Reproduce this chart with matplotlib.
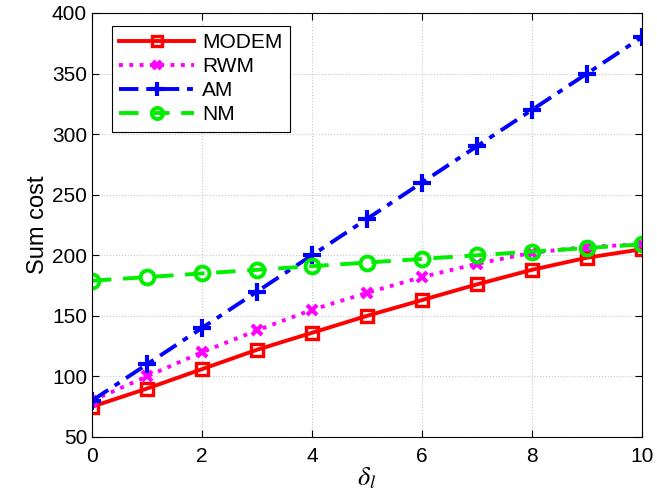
import numpy as np
import matplotlib.pyplot as plt

plt.rcParams['font.family'] = ['Liberation Sans', 'DejaVu Sans']
plt.rcParams['mathtext.fontset'] = 'stix'

delta = [0, 1, 2, 3, 4, 5, 6, 7, 8, 9, 10]
modem = [75, 90, 106, 122, 136, 150, 163, 176, 188, 198, 205]
rwm = [80, 100, 120, 138, 155, 169, 182, 193, 202, 207, 209]
am = [80, 110, 140, 170, 200, 230, 260, 290, 320, 350, 380]
nm = [179, 182, 185, 188, 191, 194, 197, 200, 203, 206, 209]

fig = plt.figure(figsize=(6.57, 5.0), dpi=100)
ax = fig.add_axes([0.140, 0.126, 0.837, 0.848])

ax.plot(delta, modem, '-', color='red', lw=2.8, marker='s', ms=9, mfc='none', mew=2.4, label='MODEM')
ax.plot(delta, rwm, ':', color='magenta', lw=2.8, marker='x', ms=7, mew=3, label='RWM')
ax.plot(delta, am, color='blue', lw=2.8, ls=(0, (5, 2, 1.5, 2)), marker='+', ms=13, mew=3, label='AM')
ax.plot(delta, nm, color='#00ee00', lw=2.8, ls=(0, (5, 3)), marker='o', ms=10, mfc='none', mew=2.8, label='NM')

ax.set_xlim(0, 10)
ax.set_ylim(50, 400)
ax.set_xticks([0, 2, 4, 6, 8, 10])
ax.set_yticks(np.arange(50, 401, 50))
ax.grid(True, ls=':', color='#c8c8c8', lw=0.8)
ax.tick_params(direction='in', top=True, right=True, labelsize=15, length=5)
ax.tick_params(axis='x', pad=7)
ax.set_xlabel(r'$\delta_l$', fontsize=19, labelpad=0)
ax.set_ylabel('Sum cost', fontsize=17, labelpad=2)

leg = ax.legend(loc='upper left', bbox_to_anchor=(0.017, 0.995), fontsize=15,
                handlelength=3.6, handletextpad=0.4, fancybox=False, edgecolor='black',
                framealpha=1, borderpad=0.35, labelspacing=0.25, markerscale=0.8)
leg.get_frame().set_linewidth(0.8)

fig.savefig('out.png', dpi=100)
